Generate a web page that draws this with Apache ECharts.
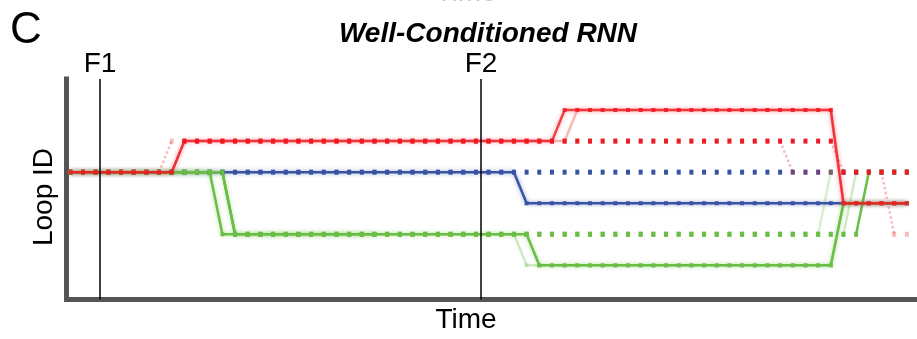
<!DOCTYPE html>
<html>
<head>
<meta charset="utf-8">
<script src="https://cdn.jsdelivr.net/npm/echarts@6/dist/echarts.min.js"></script>
<style>
  html, body { margin: 0; padding: 0; background: #fff; }
  #chart { width: 917px; height: 339px; }
</style>
</head>
<body>
<div id="chart"></div>
<script>
// loop id per time step (t = 0..66)
const redSolid = [
  3,3,3,3,3,3,3,3,3,4,
  4,4,4,4,4,4,4,4,4,4,
  4,4,4,4,4,4,4,4,4,4,
  4,4,4,4,4,4,4,4,4,5,
  5,5,5,5,5,5,5,5,5,5,
  5,5,5,5,5,5,5,5,5,5,
  5,2,2,2,2,2,2
];
const redGhost = [
  3,3,3,3,3,3,3,3,3,4,
  4,4,4,4,4,4,4,4,4,4,
  4,4,4,4,4,4,4,4,4,4,
  4,4,4,4,4,4,4,4,4,4,
  5,5,5,5,5,5,5,5,5,5,
  5,5,5,5,5,5,5,5,5,5,
  5,2,2,2,2,2,2
];
const blueSolid = [
  3,3,3,3,3,3,3,3,3,3,
  3,3,3,3,3,3,3,3,3,3,
  3,3,3,3,3,3,3,3,3,3,
  3,3,3,3,3,3,2,2,2,2,
  2,2,2,2,2,2,2,2,2,2,
  2,2,2,2,2,2,2,2,2,2,
  2,2,2,2,2,2,2
];
const greenSolid = [
  3,3,3,3,3,3,3,3,3,3,
  3,3,1,1,1,1,1,1,1,1,
  1,1,1,1,1,1,1,1,1,1,
  1,1,1,1,1,1,1,0,0,0,
  0,0,0,0,0,0,0,0,0,0,
  0,0,0,0,0,0,0,0,0,0,
  0,2,2,2,2,2,2
];
const greenLate = [
  3,3,3,3,3,3,3,3,3,3,
  3,3,3,1,1,1,1,1,1,1,
  1,1,1,1,1,1,1,1,1,1,
  1,1,1,1,1,1,0,0,0,0,
  0,0,0,0,0,0,0,0,0,0,
  0,0,0,0,0,0,0,0,0,0,
  0,2,2,2,2,2,2
];
const redDotted = [
  3,3,3,3,3,3,3,3,3,4,
  4,4,4,4,4,4,4,4,4,4,
  4,4,4,4,4,4,4,4,4,4,
  4,4,4,4,4,4,4,4,4,4,
  4,4,4,4,4,4,4,4,4,4,
  4,4,4,4,4,4,4,4,4,4,
  4,3,3,3,3,3,3
];
const redDottedB = [
  3,3,3,3,3,3,3,3,4,4,
  4,4,4,4,4,4,4,4,4,4,
  4,4,4,4,4,4,4,4,4,4,
  4,4,4,4,4,4,4,4,4,4,
  4,4,4,4,4,4,4,4,4,4,
  4,4,4,4,4,4,4,3,3,3,
  3,3,3,3,3,1,1
];
const blueDotted = [
  3,3,3,3,3,3,3,3,3,3,
  3,3,3,3,3,3,3,3,3,3,
  3,3,3,3,3,3,3,3,3,3,
  3,3,3,3,3,3,3,3,3,3,
  3,3,3,3,3,3,3,3,3,3,
  3,3,3,3,3,3,3,3,3,3,
  3,3,3,3,3,3,3
];
const greenDotted = [
  3,3,3,3,3,3,3,3,3,3,
  3,3,3,1,1,1,1,1,1,1,
  1,1,1,1,1,1,1,1,1,1,
  1,1,1,1,1,1,1,1,1,1,
  1,1,1,1,1,1,1,1,1,1,
  1,1,1,1,1,1,1,1,1,1,
  1,1,1,3,3,3,3
];
const greenDottedB = [
  3,3,3,3,3,3,3,3,3,3,
  3,3,3,1,1,1,1,1,1,1,
  1,1,1,1,1,1,1,1,1,1,
  1,1,1,1,1,1,1,1,1,1,
  1,1,1,1,1,1,1,1,1,1,
  1,1,1,1,1,1,1,1,1,1,
  3,3,3,3,3,3,3
];
const greenDottedC = [
  3,3,3,3,3,3,3,3,3,3,
  3,3,3,1,1,1,1,1,1,1,
  1,1,1,1,1,1,1,1,1,1,
  1,1,1,1,1,1,1,1,1,1,
  1,1,1,1,1,1,1,1,1,1,
  1,1,1,1,1,1,1,1,1,1,
  1,1,3,3,3,3,3
];
const cueTimes = [2.35, 32.4];
const cueLabels = ['F1', 'F2'];

const RED = '#ed1c24', BLUE = '#3953a4', GREEN = '#6abd45';
const FONT = '"Liberation Sans", Arial, sans-serif';

const pts = arr => arr.map((v, i) => [i, v]);

function solid(arr, color, halo, opacity, z) {
  return {
    type: 'line', data: pts(arr), z: z, silent: true,
    symbol: 'rect', symbolSize: 4, showSymbol: true,
    lineStyle: { color: color, width: 2.5, opacity: opacity, shadowBlur: 4, shadowColor: halo },
    itemStyle: { color: color, opacity: opacity }
  };
}

function dotted(arr, color, opacity, z) {
  return {
    type: 'line', data: pts(arr), z: z, silent: true,
    symbol: 'rect', symbolSize: [4, 5], showSymbol: true,
    lineStyle: { opacity: 0 },
    itemStyle: { color: color, opacity: opacity }
  };
}

// the jumps of a dotted trace are drawn as plain segments
function ramps(arr, color, opacity, type, z) {
  const out = [];
  for (let i = 0; i < arr.length - 1; i++) {
    if (arr[i] !== arr[i + 1]) {
      out.push({
        type: 'line', z: z, silent: true, symbol: 'none',
        data: [[i, arr[i]], [i + 1, arr[i + 1]]],
        lineStyle: { color: color, width: 2.5, opacity: opacity, type: type }
      });
    }
  }
  return out;
}

const lateBright = greenLate.map((v, i) => i <= 24 ? v : null);
const lateFaint = greenLate.map((v, i) => i >= 24 ? v : null);

const series = [];
series.push(Object.assign(dotted(blueDotted, BLUE, 1, 1), {
  markLine: {
    silent: true, symbol: 'none', animation: false,
    lineStyle: { color: '#000', width: 1.5, type: 'solid' },
    label: { show: true, position: 'end', distance: 1, formatter: p => p.name,
             fontFamily: FONT, fontSize: 28, color: '#000' },
    data: cueTimes.map((t, i) => ({ xAxis: t, name: cueLabels[i] }))
  }
}));
series.push(dotted(greenDottedB, GREEN, 0.45, 1));
series.push(dotted(greenDottedC, GREEN, 0.45, 1));
series.push(dotted(greenDotted, GREEN, 1, 1));
series.push(dotted(redDottedB, RED, 0.3, 1));
series.push(dotted(redDotted, RED, 1, 1));
series.push(...ramps(greenDottedB, GREEN, 0.25, 'solid', 1));
series.push(...ramps(greenDottedC, GREEN, 0.3, 'solid', 1));
series.push(...ramps(greenDotted, GREEN, 1, 'solid', 1));
series.push(...ramps(redDottedB, RED, 0.3, 'dotted', 1));
series.push(...ramps(redDotted, RED, 0.3, 'dotted', 1));
series.push(solid(blueSolid, BLUE, 'rgba(57,83,164,0.5)', 1, 2));
series.push(solid(lateFaint, GREEN, 'rgba(106,189,69,0.2)', 0.3, 2));
series.push(solid(lateBright, GREEN, 'rgba(106,189,69,0.5)', 1, 2));
series.push(solid(greenSolid, GREEN, 'rgba(106,189,69,0.5)', 1, 2));
series.push(solid(redGhost, RED, 'rgba(237,28,36,0.2)', 0.3, 3));
series.push(solid(redSolid, RED, 'rgba(237,28,36,0.5)', 0.8, 3));

const chart = echarts.init(document.getElementById('chart'));
chart.setOption({
  animation: false,
  backgroundColor: '#fff',
  grid: { left: 66.5, right: 0, top: 79, bottom: 39.5 },
  xAxis: {
    type: 'value', min: -0.3, max: 66.8,
    axisLine: { onZero: false, lineStyle: { color: '#555', width: 5, cap: 'square' } },
    axisTick: { show: false }, axisLabel: { show: false }, splitLine: { show: false }
  },
  yAxis: {
    type: 'value', min: -1.1, max: 6,
    axisLine: { show: true, onZero: false, lineStyle: { color: '#555', width: 5, cap: 'square' } },
    axisTick: { show: false }, axisLabel: { show: false }, splitLine: { show: false }
  },
  graphic: [
    { type: 'text', x: 466, y: -7, style: { text: 'Time', font: '28px ' + FONT, fill: '#c8c8c8', textAlign: 'center', textVerticalAlign: 'middle' } },
    { type: 'text', x: 10, y: 31, style: { text: 'C', font: '44px ' + FONT, fill: '#000', textAlign: 'left', textVerticalAlign: 'middle' } },
    { type: 'text', x: 488, y: 34, style: { text: 'Well-Conditioned RNN', font: 'italic bold 28px ' + FONT, fill: '#000', textAlign: 'center', textVerticalAlign: 'middle' } },
    { type: 'text', x: 44, y: 197, rotation: Math.PI / 2, style: { text: 'Loop ID', font: '28px ' + FONT, fill: '#000', textAlign: 'center', textVerticalAlign: 'middle' } },
    { type: 'text', x: 466, y: 320, style: { text: 'Time', font: '28px ' + FONT, fill: '#000', textAlign: 'center', textVerticalAlign: 'middle' } }
  ],
  series: series
});
</script>
</body>
</html>
